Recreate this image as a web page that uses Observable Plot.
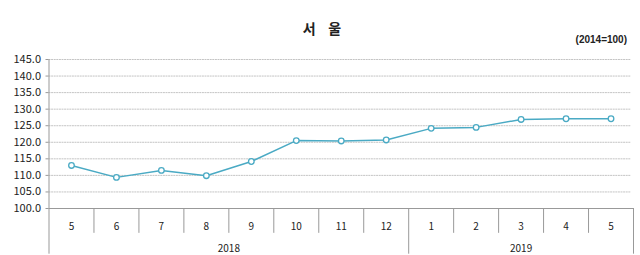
<!DOCTYPE html>
<html><head><meta charset="utf-8">
<script src="https://cdn.jsdelivr.net/npm/d3@7"></script>
<script src="https://cdn.jsdelivr.net/npm/@observablehq/plot@0.6"></script>
<style>
body{margin:0;background:#fff;font-family:"Noto Sans CJK KR","Malgun Gothic",sans-serif;}
#wrap{position:relative;width:640px;height:255px;}
#title{position:absolute;left:0;width:644px;top:18px;text-align:center;font-size:14px;font-weight:bold;color:#222;}
#unit{position:absolute;right:13px;top:34px;font-size:10px;font-weight:bold;color:#222;font-family:Arial,"Liberation Sans",sans-serif;}
</style></head><body>
<div id="wrap"><div id="title">서&nbsp;&nbsp;&nbsp;&nbsp;울</div><div id="unit">(2014=100)</div><div id="chart"></div></div>
<script>
const months = ["5","6","7","8","9","10","11","12","1","2","3","4","5"];
const years  = ["2018","2018","2018","2018","2018","2018","2018","2018","2019","2019","2019","2019","2019"];
const values = [113.0,109.4,111.5,109.9,114.2,120.5,120.4,120.7,124.2,124.5,126.9,127.1,127.1];
const yTicks = [100,105,110,115,120,125,130,135,140,145];

const data = values.map((v,i)=>({i, v, m: months[i], yr: years[i]}));
const n = data.length;
const bounds = d3.range(n+1).map(k=>k-0.5);
const yearGroups = d3.groups(data, d=>d.yr).map(([yr, arr])=>({yr, lo: arr[0].i-0.5, hi: arr[arr.length-1].i+0.5, mid:(arr[0].i+arr[arr.length-1].i)/2}));
const yearBounds = Array.from(new Set(yearGroups.flatMap(g=>[g.lo,g.hi])));
const monthBounds = bounds.filter(b=>!yearBounds.includes(b));
const col = "#4aaac4";

const chart = Plot.plot({
  width: 640, height: 255,
  marginLeft: 48.5, marginRight: 7, marginTop: 59, marginBottom: 47,
  style: {fontFamily: '"Noto Sans CJK KR", sans-serif', fontSize: "11px", color:"#222", background:"transparent"},
  x: {type:"linear", domain:[-0.5, n-0.5], axis:null},
  y: {domain:[100,145], axis:null},
  marks: [
    Plot.ruleY(yTicks.filter(t=>t>100), {stroke:"#c4c4c4", strokeDasharray:"2,0.6", x1:-0.5, x2:n-0.55}),
    Plot.axisY(yTicks, {tickSize:3, tickPadding:5, stroke:"#999", tickFormat:d=>d.toFixed(1), fontSize:11, label:null}),
    Plot.ruleX([-0.5], {y1:100, y2:145, stroke:"#999"}),
    Plot.ruleY([100], {x1:-0.5, x2:n-0.5, stroke:"#999"}),
    Plot.ruleX(monthBounds, {y1:100, y2:92.5, stroke:"#999"}),
    Plot.ruleX(yearBounds, {y1:100, y2:86.2, stroke:"#999"}),
    Plot.text(data, {x:"i", y:100, text:"m", dy:18, fontSize:10}),
    Plot.text(yearGroups, {x:"mid", y:100, text:"yr", dy:40, fontSize:10}),
    Plot.line(data, {x:"i", y:"v", stroke:col, strokeWidth:1.5}),
    Plot.dot(data, {x:"i", y:"v", r:2.8, fill:"white", stroke:col, strokeWidth:1.3})
  ]
});
document.getElementById("chart").append(chart);
</script>
</body></html>
